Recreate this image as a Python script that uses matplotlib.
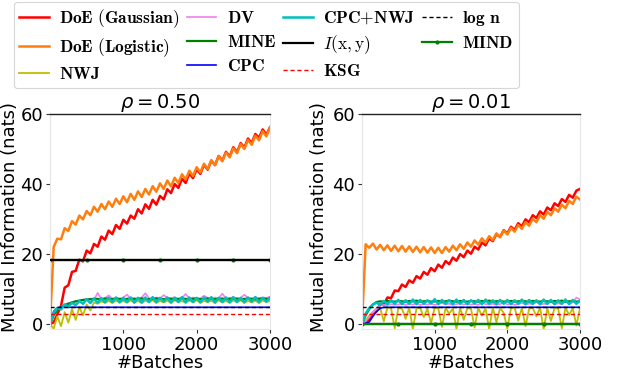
import numpy as np
import matplotlib
matplotlib.use("Agg")
import matplotlib.pyplot as plt
from matplotlib.font_manager import FontProperties

# ---------------- data ----------------
batches = np.arange(0, 3001, 50)

# rho = 0.50
doe_gauss_a = [0, 0.5, 2.8, 5.2, 10.4, 11.1, 14.9, 15.2, 18.4, 17.9,
               21.0, 20.2, 22.9, 22.1, 25.0, 24.1, 26.7, 25.7, 28.3, 27.2,
               29.8, 28.7, 31.0, 30.1, 32.8, 31.6, 34.2, 32.9, 35.5, 34.1,
               36.6, 35.6, 38.5, 37.4, 40.0, 38.9, 41.5, 40.3, 43.0, 41.7,
               44.2, 42.9, 45.5, 44.1, 46.7, 45.4, 48.0, 46.7, 49.2, 47.9,
               50.5, 49.1, 51.7, 50.4, 53.0, 51.7, 54.3, 53.2, 55.6, 54.1,
               56.2]
doe_logit_a = [0, 22.0, 24.4, 24.2, 27.4, 26.6, 29.4, 28.4, 31.0, 29.9,
               32.3, 31.1, 33.5, 32.1, 34.3, 32.8, 35.0, 33.5, 35.8, 34.3,
               36.5, 34.8, 37.2, 35.5, 37.9, 36.3, 38.6, 37.0, 39.4, 37.8,
               40.2, 38.6, 41.0, 39.3, 41.8, 40.3, 42.8, 41.3, 43.8, 42.3,
               44.8, 43.3, 45.8, 44.3, 46.8, 45.4, 48.0, 46.5, 49.0, 47.6,
               50.2, 48.8, 51.4, 50.0, 52.6, 51.2, 53.8, 52.5, 55.1, 53.6,
               56.2]
nwj_a = [0, -1.3, 2.2, -0.6, 3.4, 0.4, 4.3, 1.2, 4.8, 2.5,
         5.6, 3.9, 6.2, 5.8, 6.5, 6.1, 6.6, 6.0, 6.7, 6.2,
         6.6, 6.1, 6.8, 6.2, 6.6, 6.0, 6.7, 6.3, 6.8, 6.1,
         6.6, 6.2, 6.7, 6.0, 6.8, 6.3, 6.6, 6.1, 6.7, 6.2,
         6.8, 6.1, 6.6, 6.3, 6.7, 6.0, 6.8, 6.2, 6.6, 6.1,
         6.7, 6.3, 6.8, 6.1, 6.6, 6.2, 6.7, 6.0, 6.8, 6.3,
         6.6]
dv_a = [0, 2.4, 4.1, 5.0, 5.6, 6.0, 6.2, 6.5, 6.7, 6.9,
        7.1, 7.3, 7.0, 8.9, 7.2, 7.4, 8.2, 7.3, 7.5, 7.2,
        7.6, 8.4, 7.3, 7.5, 7.2, 7.6, 8.8, 7.4, 7.3, 7.6,
        7.2, 8.3, 7.5, 7.4, 7.7, 7.2, 7.5, 8.6, 7.3, 7.6,
        7.4, 7.3, 8.1, 7.5, 7.2, 7.6, 7.4, 8.7, 7.3, 7.5,
        7.6, 7.2, 7.4, 8.4, 7.5, 7.3, 7.7, 7.4, 7.6, 7.5,
        7.8]
mine_a = [0, 2.6, 4.0, 4.9, 5.4, 5.8, 6.2, 6.5, 6.7, 6.9,
          7.0, 7.1, 7.2, 7.2, 7.1, 7.3, 7.2, 7.1, 7.3, 7.2,
          7.1, 7.2, 7.3, 7.1, 7.2, 7.3, 7.2, 7.1, 7.2, 7.3,
          7.2, 7.1, 7.3, 7.2, 7.1, 7.2, 7.3, 7.2, 7.1, 7.2,
          7.3, 7.1, 7.2, 7.3, 7.2, 7.1, 7.2, 7.3, 7.1, 7.2,
          7.2, 7.3, 7.1, 7.2, 7.3, 7.2, 7.1, 7.2, 7.3, 7.2,
          7.2]
cpc_a = [0, 3.6, 4.7, 4.8, 4.8, 4.8, 4.8, 4.8, 4.8, 4.8,
         4.8, 4.8, 4.8, 4.8, 4.8, 4.8, 4.8, 4.8, 4.8, 4.8,
         4.8, 4.8, 4.8, 4.8, 4.8, 4.8, 4.8, 4.8, 4.8, 4.8,
         4.8, 4.8, 4.8, 4.8, 4.8, 4.8, 4.8, 4.8, 4.8, 4.8,
         4.8, 4.8, 4.8, 4.8, 4.8, 4.8, 4.8, 4.8, 4.8, 4.8,
         4.8, 4.8, 4.8, 4.8, 4.8, 4.8, 4.8, 4.8, 4.8, 4.8,
         4.8]
cpc_nwj_a = [0, 3.2, 4.6, 4.2, 5.6, 5.0, 6.1, 5.4, 6.6, 5.8,
             7.1, 6.0, 7.3, 6.1, 7.4, 6.2, 7.5, 6.3, 7.6, 6.2,
             7.5, 6.3, 7.6, 6.1, 7.5, 6.2, 7.6, 6.3, 7.7, 6.2,
             7.5, 6.4, 7.6, 6.2, 7.5, 6.3, 7.7, 6.2, 7.6, 6.3,
             7.5, 6.2, 7.6, 6.4, 7.7, 6.2, 7.5, 6.3, 7.6, 6.2,
             7.7, 6.3, 7.5, 6.2, 7.6, 6.4, 7.7, 6.3, 7.5, 6.4,
             7.6]
true_mi_a = 18.4
ksg_a = 3.0
log_n = 4.85
mind_a = 18.4

# rho = 0.01
doe_gauss_b = [0, 0.6, 1.2, 3.3, 3.6, 5.6, 5.5, 7.6, 7.4, 9.6,
               9.4, 11.3, 10.6, 12.5, 11.8, 13.7, 13.0, 14.9, 14.1, 16.0,
               15.1, 17.0, 16.1, 18.0, 17.1, 19.0, 18.1, 20.0, 19.1, 21.0,
               20.1, 22.1, 21.3, 23.3, 22.5, 24.5, 23.7, 25.7, 24.9, 26.8,
               25.9, 27.8, 26.9, 28.8, 27.9, 29.9, 29.1, 31.1, 30.3, 32.2,
               31.3, 33.3, 32.5, 34.5, 33.7, 35.7, 34.9, 36.9, 36.1, 38.1,
               38.6]
doe_logit_b = [0, 22.8, 21.8, 23.0, 21.3, 22.6, 21.1, 22.5, 20.9, 22.4,
               20.8, 22.3, 20.7, 22.2, 20.6, 22.1, 20.5, 22.0, 20.4, 21.9,
               20.3, 21.8, 20.3, 22.0, 20.7, 22.4, 21.1, 22.8, 21.5, 23.3,
               22.1, 23.9, 22.7, 24.5, 23.3, 25.1, 24.0, 25.9, 24.8, 26.7,
               25.6, 27.5, 26.4, 28.3, 27.2, 29.1, 28.1, 30.1, 29.1, 31.1,
               30.1, 32.1, 31.1, 33.1, 32.1, 34.1, 33.1, 35.2, 34.3, 36.4,
               35.6]
nwj_b = [0, 1.0, 2.4, 3.4, 4.1, 4.6, 0.8, 4.7, 4.5, -1.2,
         4.6, 4.4, 1.5, 4.7, -1.5, 4.5, 4.6, 2.0, 4.4, 0.2,
         4.7, 4.5, -0.8, 4.6, 3.0, 4.5, -1.4, 4.7, 1.2, 4.6,
         4.4, -1.0, 4.6, 2.4, 4.5, -1.5, 4.7, 0.5, 4.6, 3.2,
         -1.3, 4.5, 4.7, 1.0, 4.6, -0.6, 4.4, 4.6, 2.2, 4.7,
         -1.5, 4.5, 0.9, 4.6, 4.4, -1.2, 4.7, 2.6, 4.5, -0.4,
         4.6]
dv_b = [0, 0.8, 2.0, 3.5, 4.6, 5.2, 5.5, 5.4, 5.7, 5.5,
        5.6, 5.8, 5.5, 5.7, 5.6, 5.9, 5.5, 5.7, 5.6, 5.8,
        5.5, 5.7, 6.0, 5.6, 5.8, 5.5, 5.7, 5.9, 5.6, 5.8,
        5.6, 5.7, 5.5, 6.1, 5.7, 5.6, 5.8, 5.5, 5.7, 6.2,
        5.6, 5.8, 5.5, 5.7, 6.0, 5.6, 5.8, 5.7, 6.3, 5.6,
        5.8, 5.7, 6.5, 5.6, 5.9, 5.7, 6.8, 5.8, 6.2, 7.6,
        7.0]
mine_b = [0, 2.5, 4.3, 5.6, 6.3, 6.5, 6.4, 6.6, 6.5, 6.4,
          6.6, 6.5, 6.4, 6.6, 6.5, 6.7, 6.4, 6.5, 6.6, 6.4,
          6.5, 6.6, 6.4, 6.5, 6.7, 6.5, 6.4, 6.6, 6.5, 6.4,
          6.6, 6.5, 6.4, 6.6, 6.5, 6.7, 6.4, 6.5, 6.6, 6.4,
          6.5, 6.6, 6.4, 6.5, 6.6, 6.5, 6.4, 6.6, 6.5, 6.4,
          6.6, 6.5, 6.4, 6.6, 6.5, 6.7, 6.4, 6.5, 6.6, 6.4,
          6.5]
cpc_b = [0, 0.2, 0.6, 2.2, 3.6, 4.5, 4.8, 4.8, 4.8, 4.8,
         4.8, 4.8, 4.8, 4.8, 4.8, 4.8, 4.8, 4.8, 4.8, 4.8,
         4.8, 4.8, 4.8, 4.8, 4.8, 4.8, 4.8, 4.8, 4.8, 4.8,
         4.8, 4.8, 4.8, 4.8, 4.8, 4.8, 4.8, 4.8, 4.8, 4.8,
         4.8, 4.8, 4.8, 4.8, 4.8, 4.8, 4.8, 4.8, 4.8, 4.8,
         4.8, 4.8, 4.8, 4.8, 4.8, 4.8, 4.8, 4.8, 4.8, 4.8,
         4.8]
cpc_nwj_b = [0, 3.0, 4.6, 5.6, 6.1, 5.5, 6.6, 5.7, 6.8, 5.8,
             6.9, 5.7, 6.8, 5.8, 7.0, 5.7, 6.9, 5.8, 6.8, 5.9,
             7.1, 5.7, 6.9, 5.8, 6.8, 5.7, 7.0, 5.8, 6.9, 5.7,
             6.8, 5.9, 6.9, 5.7, 7.0, 5.8, 6.8, 5.7, 6.9, 5.8,
             6.9, 5.7, 6.8, 5.8, 7.0, 5.7, 6.9, 5.8, 6.8, 5.7,
             7.0, 5.8, 6.9, 5.7, 6.8, 5.8, 7.0, 5.7, 6.9, 5.8,
             6.7]
true_mi_b = 0.0
ksg_b = 3.0
mind_b = 0.0

titles = [r'$\rho = 0.50$', r'$\rho = 0.01$']
labels = [r'$\mathbf{DoE\ (Gaussian)}$', r'$\mathbf{DoE\ (Logistic)}$', r'$\mathbf{NWJ}$',
          r'$\mathbf{DV}$', r'$\mathbf{MINE}$', r'$\mathbf{CPC}$',
          r'$\mathbf{CPC{+}NWJ}$', r'$I(\mathrm{x},\mathrm{y})$', r'$\mathbf{KSG}$',
          r'$\mathbf{log\ n}$', r'$\mathbf{MIND}$']
ylabel = 'Mutual Information (nats)'
xlabel = '#Batches'

panels = [
    dict(dg=doe_gauss_a, dl=doe_logit_a, nwj=nwj_a, dv=dv_a, mine=mine_a, cpc=cpc_a,
         cn=cpc_nwj_a, mi=true_mi_a, ksg=ksg_a, mind=mind_a, mind_top=False),
    dict(dg=doe_gauss_b, dl=doe_logit_b, nwj=nwj_b, dv=dv_b, mine=mine_b, cpc=cpc_b,
         cn=cpc_nwj_b, mi=true_mi_b, ksg=ksg_b, mind=mind_b, mind_top=True),
]

# ---------------- figure ----------------
W, H = 640, 371
fig = plt.figure(figsize=(W / 100, H / 100), dpi=100)
axes_px = [(50, 114, 270, 329), (362, 114, 580, 329)]
ylabel_right_px = [19, 328]

handles = None
for k, (p, (x0, y0, x1, y1)) in enumerate(zip(panels, axes_px)):
    ax = fig.add_axes([x0 / W, 1 - y1 / H, (x1 - x0) / W, (y1 - y0) / H])
    hs = []
    hs += ax.plot(batches, p['dg'], color='red', lw=1.8)
    hs += ax.plot(batches, p['dl'], color='#ff7f0e', lw=1.8)
    hs += ax.plot(batches, p['nwj'], color='#bfbf00', lw=1.3)
    hs += ax.plot(batches, p['dv'], color='violet', lw=1.2)
    hs += ax.plot(batches, p['mine'], color='green', lw=1.6)
    hs += ax.plot(batches, p['cpc'], color='blue', lw=1.2)
    hs += ax.plot(batches, p['cn'], color='#00bfbf', lw=1.8)
    mi_line = ax.axhline(p['mi'], color='black', lw=1.6, zorder=2.6 if not p['mind_top'] else 2.4)
    hs.append(mi_line)
    hs.append(ax.axhline(p['ksg'], color='red', lw=1.0, ls=(0, (3, 2))))
    hs.append(ax.axhline(log_n, color='black', lw=1.0, ls=(0, (3, 2))))
    mind_vals = [p['mind']] * len(batches)
    hs += ax.plot(batches, mind_vals, color='green', lw=1.6, marker='.', ms=4,
                  markevery=10, zorder=2.5)
    if handles is None:
        handles = hs

    ax.set_xlim(0, 3000)
    ax.set_ylim(-1.4, 60)
    ax.set_xticks([1000, 2000, 3000])
    ax.set_yticks([0, 20, 40, 60])
    ax.tick_params(labelsize=13, length=3, width=0.8, color='#333333', pad=2)
    for s in ['left', 'right', 'bottom']:
        ax.spines[s].set_color('#e6e6e6')
    ax.spines['top'].set_color('#222222')
    ax.spines['top'].set_linewidth(1.0)
    ax.set_title(titles[k], fontsize=14, pad=3)
    ax.set_xlabel(xlabel, fontsize=13, labelpad=0)
    ax.set_ylabel(ylabel, fontsize=13)
    ax.yaxis.set_label_coords((ylabel_right_px[k] - x0) / (x1 - x0), 0.52)

prop = FontProperties(size=12.5, math_fontfamily='cm')
leg = fig.legend(handles, labels, loc='upper left', bbox_to_anchor=(14 / W, 1 - 2 / H),
                 borderaxespad=0, ncol=4, prop=prop, frameon=True, handlelength=1.7,
                 handletextpad=0.6, columnspacing=0.4, labelspacing=0.35, borderpad=0.3,
                 fancybox=True)
leg.get_frame().set_edgecolor('#cccccc')
leg.get_frame().set_linewidth(0.8)

fig.savefig('out.png', dpi=100)
